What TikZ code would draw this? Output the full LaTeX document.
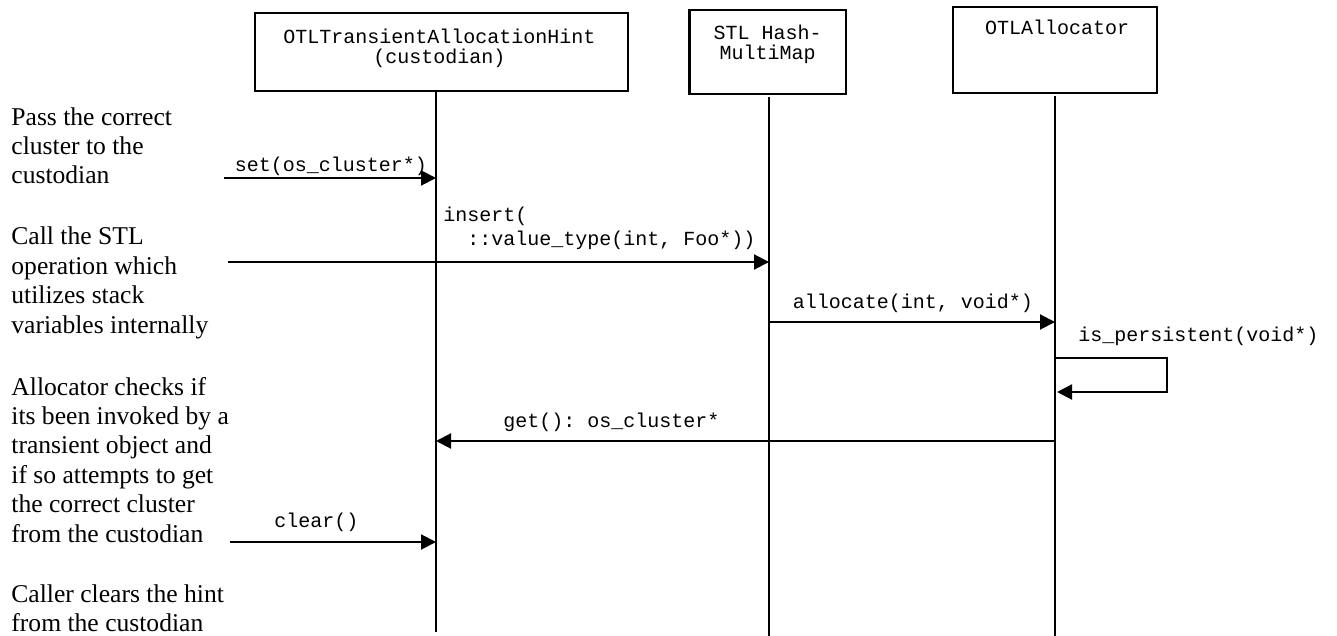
\documentclass[tikz,border=0pt]{standalone}
\usepackage{fontspec}
\setmainfont{Liberation Serif}
\setmonofont{Liberation Mono}
\usetikzlibrary{arrows.meta}
\usetikzlibrary{positioning}

\begin{document}
\begin{tikzpicture}
	[x=0.5pt,y=-0.5pt,every node/.style={inner sep=0pt},
	objbox/.style={draw,line width=1.1pt,rectangle},
	objtext/.style={font=\fontsize{10}{10.3}\selectfont\ttfamily,align=center,anchor=base},
	msgtext/.style={font=\fontsize{10}{12}\selectfont\ttfamily,anchor=base west},
	note/.style={font=\fontsize{12.8}{14.7}\selectfont,align=left,anchor=base west},
	lifeline/.style={line width=1pt},
	msg/.style={line width=1pt,-{Triangle[length=7.5pt,width=7.5pt]}}]
	\useasboundingbox (0,0) rectangle (1337,636);
	% objects
	\node[objbox,minimum width=186.5pt,minimum height=39pt] (hint) at (441.7,52.3) {};
	\node[objbox,minimum width=78.3pt,minimum height=42pt] (map) at (767.7,52.2) {};
	\node[objbox,minimum width=102pt,minimum height=42.7pt] (alloc) at (1055.3,50) {};
	% (base of a node with several lines = its last line)
	\node[objtext] (hintname) at (439.5,64) {OTLTransientAllocationHint\\(custodian)};
	\node[objtext] (mapname) at (767.5,60) {STL Hash-\\MultiMap};
	\node[objtext] (allocname) at (1057,35) {OTLAllocator};
	% lifelines
	\coordinate (hinttop) at (436,92);
	\coordinate (hintbot) at (436,632);
	\coordinate (maptop) at (769,97);
	\coordinate (mapbot) at (769,636);
	\coordinate (alloctop) at (1055,96);
	\coordinate (allocbot) at (1055,636);
	\foreach \from/\to in {hinttop/hintbot, maptop/mapbot, alloctop/allocbot}
		\draw[lifeline] (\from) -- (\to);
	% notes on the left
	\node[note] (passnote) at (11,184) {Pass the correct\\cluster to the\\custodian};
	\node[note] (callnote) at (11,333) {Call the STL\\operation which\\utilizes stack\\variables internally};
	\node[note] (checknote) at (11,542) {Allocator checks if\\its been invoked by a\\transient object and\\if so attempts to get\\the correct cluster\\from the custodian};
	\node[note] (clearnote) at (11,631.5) {Caller clears the hint\\from the custodian};
	% messages
	\coordinate (setsrc) at (224,178);
	\coordinate (insertsrc) at (228,262);
	\coordinate (clearsrc) at (230,542);
	\coordinate (loopa) at (1167,358);
	\coordinate (loopb) at (1167,392);
	\draw[msg] (setsrc) -- (setsrc -| hinttop);
	\draw[msg] (insertsrc) -- (insertsrc -| maptop);
	\draw[msg] (maptop |- 0,322) -- (alloctop |- 0,322);
	\draw[msg] (loopa -| alloctop) -- (loopa) -- (loopb) -- ([xshift=1pt]loopb -| alloctop);
	\draw[msg] (alloctop |- 0,441) -- (hinttop |- 0,441);
	\draw[msg] (clearsrc) -- (clearsrc -| hinttop);
	\node[msgtext,anchor=base] (setlabel) at (331,171.7) {set(os\_cluster*)};
	\node[msgtext,align=left] (insertlabel) at (443,245.5) {insert(\\\ \ ::value\_type(int, Foo*))};
	\node[msgtext,anchor=base] (alloclabel) at (913,308) {allocate(int, void*)};
	\node[msgtext] (persistlabel) at (1078,341) {is\_persistent(void*)};
	\node[msgtext] (getlabel) at (503,427) {get(): os\_cluster*};
	\node[msgtext] (clearlabel) at (274,527) {clear()};
\end{tikzpicture}
\end{document}
